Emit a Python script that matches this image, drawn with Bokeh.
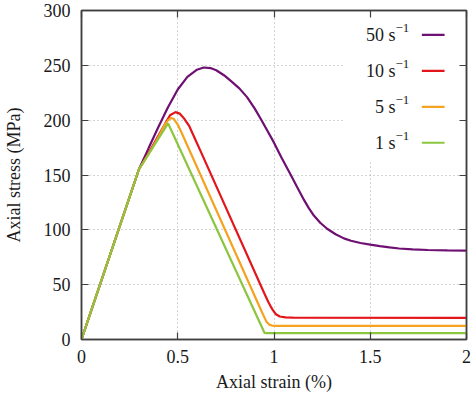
from bokeh.plotting import figure
from bokeh.models import (Range1d, FixedTicker, LinearAxis, Label, BoxAnnotation,
                          CustomJSTickFormatter)
from bokeh.embed import file_html
from bokeh.resources import INLINE

# ---------------- data ----------------
green_strain = [0.0, 0.298, 0.43, 0.45, 0.47, 0.951, 0.96, 2.0]
green_stress = [0.0, 155.0, 191.5, 197.0, 189.5, 6.0, 5.8, 5.8]

orange_strain = [0.0, 0.298, 0.35, 0.40, 0.43, 0.45, 0.465, 0.48, 0.50, 0.52, 0.601,
                 0.94, 0.96, 0.975, 0.99, 1.02, 2.0]
orange_stress = [0.0, 155.0, 169.5, 184.5, 195.5, 200.0, 202.0, 201.0, 196.0, 188.5, 156.8,
                 24.0, 16.5, 13.6, 12.7, 12.5, 12.5]

red_strain = [0.0, 0.298, 0.35, 0.40, 0.44, 0.46, 0.488, 0.51, 0.535, 0.56, 0.60, 0.618,
              0.95, 0.97, 0.985, 0.995, 1.01, 1.03, 1.06, 1.1, 2.0]
red_stress = [0.0, 155.0, 170.5, 186.0, 198.5, 204.5, 207.3, 206.0, 201.0, 194.5, 179.0, 172.0,
              42.0, 34.5, 29.5, 26.5, 23.0, 21.0, 20.2, 20.0, 19.8]

purple_strain = [0.0, 0.298, 0.35, 0.40, 0.45, 0.50, 0.55, 0.60, 0.635, 0.67, 0.70, 0.74,
                 0.774, 0.82, 0.86, 0.90, 0.93, 0.965, 1.0, 1.04, 1.086, 1.12, 1.155, 1.18,
                 1.207, 1.24, 1.276, 1.32, 1.363, 1.40, 1.449, 1.50, 1.55, 1.60, 1.65, 1.72,
                 1.8, 1.9, 2.0]
purple_stress = [0.0, 155.0, 175.0, 194.0, 212.0, 228.0, 239.5, 246.0, 248.0, 247.5, 245.5, 241.0,
                 236.0, 229.0, 221.0, 210.5, 201.5, 190.5, 179.5, 165.5, 150.5, 139.0, 127.5, 120.0,
                 113.0, 106.5, 101.0, 96.0, 92.2, 90.0, 88.0, 86.5, 85.2, 84.0, 83.0, 82.2,
                 81.6, 81.2, 81.0]

series_labels = ["50 s", "10 s", "5 s", "1 s"]
series_colors = ["#6e0f72", "#e3161c", "#f5a31e", "#8cc63f"]

x_ticks = [0, 0.5, 1, 1.5, 2]
x_tick_labels = ["0", "0.5", "1", "1.5", "2"]
y_ticks = [0, 50, 100, 150, 200, 250, 300]

FONT = "Liberation Serif"

p = figure(width=474, height=394, output_backend="svg", toolbar_location=None,
           x_range=Range1d(0, 2), y_range=Range1d(0, 300),
           min_border_left=0, min_border_right=8, min_border_top=10, min_border_bottom=0)
p.background_fill_color = "white"
p.border_fill_color = "white"
p.outline_line_color = "#404040"
p.outline_line_width = 1.5

# grid
for g in (p.xgrid, p.ygrid):
    g.grid_line_color = "#a8a8a8"
    g.grid_line_dash = "1 3"
    g.grid_line_width = 1
p.xgrid.ticker = FixedTicker(ticks=x_ticks)
p.ygrid.ticker = FixedTicker(ticks=y_ticks)


def style_axis(ax, ticks):
    ax.ticker = FixedTicker(ticks=ticks)
    ax.minor_tick_line_color = None
    ax.major_tick_in = 7
    ax.major_tick_out = 0
    ax.major_tick_line_color = "#404040"
    ax.major_tick_line_width = 1.2
    ax.axis_line_color = "#404040"
    ax.axis_line_width = 1.5
    ax.major_label_text_font = FONT
    ax.major_label_text_font_size = "18px"
    ax.major_label_text_color = "#1a1a1a"
    ax.axis_label_text_font = FONT
    ax.axis_label_text_font_size = "18px"
    ax.axis_label_text_font_style = "normal"
    ax.axis_label_text_color = "#1a1a1a"


style_axis(p.xaxis[0], x_ticks)
p.xaxis[0].major_label_overrides = {t: l for t, l in zip(x_ticks, x_tick_labels)}
p.xaxis[0].axis_label = "Axial strain (%)"
p.xaxis[0].major_label_standoff = 10
p.xaxis[0].axis_label_standoff = 6

style_axis(p.yaxis[0], y_ticks)
p.yaxis[0].axis_label = "Axial stress (MPa)"
p.yaxis[0].major_label_standoff = 11
p.yaxis[0].axis_label_standoff = 17

top_ax = LinearAxis(formatter=CustomJSTickFormatter(code="return ''"))
style_axis(top_ax, x_ticks)
top_ax.major_label_standoff = 0
p.add_layout(top_ax, "above")
right_ax = LinearAxis(formatter=CustomJSTickFormatter(code="return ''"))
style_axis(right_ax, y_ticks)
right_ax.major_label_standoff = 0
p.add_layout(right_ax, "right")

# legend background (gnuplot style opaque key)
legend_box = BoxAnnotation(left=1.36, right=1.965, bottom=163, top=294,
                           fill_color="white", fill_alpha=1.0, line_alpha=0,
                           level="underlay")
p.add_layout(legend_box)

# curves
p.line(purple_strain, purple_stress, line_color=series_colors[0], line_width=2.2)
p.line(red_strain, red_stress, line_color=series_colors[1], line_width=2.2)
p.line(orange_strain, orange_stress, line_color=series_colors[2], line_width=2.2)
p.line(green_strain, green_stress, line_color=series_colors[3], line_width=2.2)

# legend (text on the left, sample on the right)
legend_text_x = 1.631
legend_sample_x = [1.768, 1.886]
legend_rows_y = [277.8, 245.0, 212.2, 179.4]
for lab, col, yy in zip(series_labels, series_colors, legend_rows_y):
    p.add_layout(Label(x=legend_text_x, y=yy, text=lab, text_align="right",
                       text_baseline="middle", text_font=FONT, text_font_size="18px",
                       text_color="#1a1a1a"))
    p.add_layout(Label(x=legend_text_x, y=yy, x_offset=0, y_offset=7, text="\u22121",
                       text_align="left", text_baseline="middle", text_font=FONT,
                       text_font_size="13px", text_color="#1a1a1a"))
    p.line(legend_sample_x, [yy, yy], line_color=col, line_width=2.2)

open("out.html", "w").write(file_html(p, INLINE))
